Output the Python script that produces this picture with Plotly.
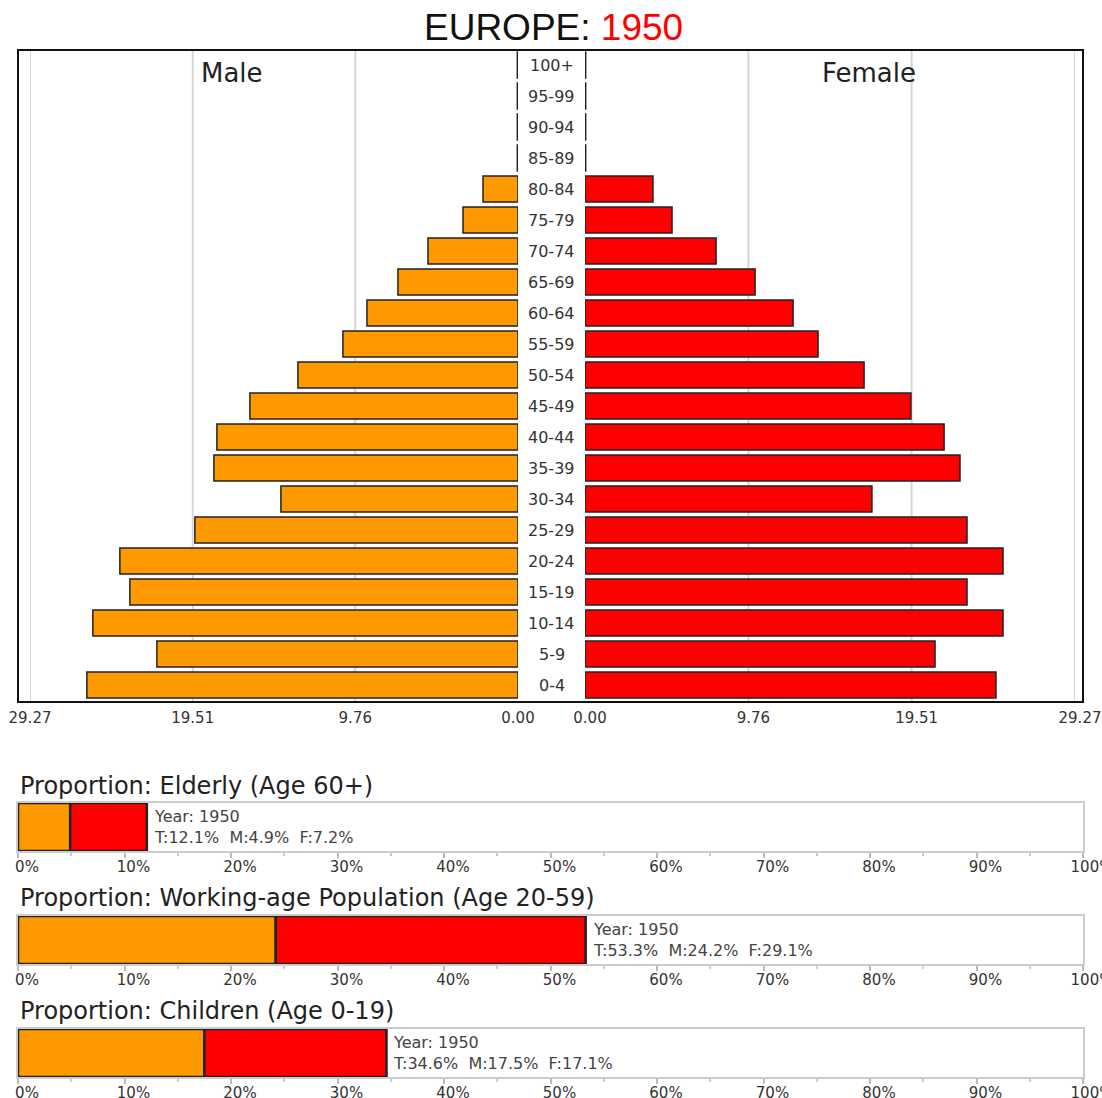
import plotly.graph_objects as go

# ---------------- data ----------------
region = "EUROPE"
year = 1950
age_groups = ["0-4", "5-9", "10-14", "15-19", "20-24", "25-29", "30-34", "35-39",
              "40-44", "45-49", "50-54", "55-59", "60-64", "65-69", "70-74", "75-79",
              "80-84", "85-89", "90-94", "95-99", "100+"]
male = [25.86, 21.66, 25.50, 23.28, 23.88, 19.38, 14.22, 18.24, 18.06, 16.08, 13.20,
        10.50, 9.06, 7.20, 5.40, 3.30, 2.10, 0.04, 0.04, 0.04, 0.04]
female = [24.55, 20.91, 24.97, 22.82, 24.97, 22.82, 17.14, 22.40, 21.45, 19.47, 16.67,
          13.92, 12.43, 10.16, 7.83, 5.20, 4.06, 0.04, 0.04, 0.04, 0.04]
axis_max = 29.27
axis_ticks = [0.00, 9.76, 19.51, 29.27]
axis_ticktext = ["0.00", "9.76", "19.51", "29.27"]

prop_titles = ["Proportion: Elderly (Age 60+)",
               "Proportion: Working-age Population (Age 20-59)",
               "Proportion: Children (Age 0-19)"]
prop_male = [4.9, 24.2, 17.5]
prop_female = [7.2, 29.1, 17.1]
prop_total = [12.1, 53.3, 34.6]
pct_ticks = [0, 10, 20, 30, 40, 50, 60, 70, 80, 90, 100]
pct_ticktext = ["0%", "10%", "20%", "30%", "40%", "50%", "60%", "70%", "80%", "90%", "100%"]
pct_minor = [5, 15, 25, 35, 45, 55, 65, 75, 85, 95]

# ---------------- style ----------------
ORANGE = "#FF9900"
RED = "#FF0000"
EDGE = "#222222"
SANS = "DejaVu Sans"
ARIAL = "Liberation Sans, Arial"

W, H = 1102, 1098


def fx(x):
    return x / W


def fy(y):
    return 1 - y / H


fig = go.Figure()

# pyramid bars
fig.add_trace(go.Bar(y=age_groups, x=male, orientation="h", xaxis="x", yaxis="y",
                     width=0.84, marker=dict(color=ORANGE, line=dict(color=EDGE, width=1.5)),
                     showlegend=False, hoverinfo="skip"))
fig.add_trace(go.Bar(y=age_groups, x=female, orientation="h", xaxis="x2", yaxis="y",
                     width=0.84, marker=dict(color=RED, line=dict(color=EDGE, width=1.5)),
                     showlegend=False, hoverinfo="skip"))

tickfont = dict(family=SANS, size=15, color="#333333")

layout = dict(
    width=W, height=H,
    margin=dict(l=0, r=0, t=0, b=0, autoexpand=False),
    paper_bgcolor="white", plot_bgcolor="rgba(0,0,0,0)",
    barmode="overlay", hovermode=False,
    xaxis=dict(domain=[fx(30), fx(518)], range=[axis_max, 0], anchor="y",
               tickvals=axis_ticks, ticktext=axis_ticktext, showgrid=False,
               zeroline=False, showline=False, ticks="outside", ticklen=3,
               tickcolor="rgba(0,0,0,0)", tickfont=tickfont, automargin=False,
               ticklabeloverflow="allow", fixedrange=True),
    xaxis2=dict(domain=[fx(585), fx(1075)], range=[0, axis_max], anchor="y",
                tickvals=axis_ticks, ticktext=axis_ticktext, showgrid=False,
                zeroline=False, showline=False, ticks="outside", ticklen=3,
                tickcolor="rgba(0,0,0,0)", tickfont=tickfont, ticklabelshift=5,
                automargin=False, ticklabeloverflow="allow", fixedrange=True),
    yaxis=dict(domain=[fy(700.5), fy(49.5)], type="category",
               categoryorder="array", categoryarray=age_groups,
               range=[-0.5, len(age_groups) - 0.5], showticklabels=False,
               showgrid=False, zeroline=False, showline=False, anchor="x",
               automargin=False, fixedrange=True),
)

shapes = []
annotations = []

# gridlines (non-zero ticks)
for v in axis_ticks:
    if v == 0:
        continue
    for xr in ("x", "x2"):
        shapes.append(dict(type="line", xref=xr, yref="paper", x0=v, x1=v,
                           y0=fy(701), y1=fy(51), line=dict(color="#d6d6d6", width=2),
                           layer="below"))

# pyramid frame
shapes.append(dict(type="rect", xref="paper", yref="paper", x0=fx(18), x1=fx(1083),
                   y0=fy(702), y1=fy(50), line=dict(color="#111111", width=2),
                   layer="above"))

# age labels
for a in age_groups:
    annotations.append(dict(x=fx(551.5), xref="paper", y=a, yref="y", text=a,
                            showarrow=False, xanchor="center", yanchor="middle",
                            font=dict(family=SANS, size=16, color="#333333")))

# title & sex labels
annotations.append(dict(x=fx(553), y=fy(27), xref="paper", yref="paper",
                        text=f"{region}: <span style='color:{RED}'>{year}</span>",
                        showarrow=False, xanchor="center", yanchor="middle",
                        font=dict(family=ARIAL, size=37, color="#111111")))
annotations.append(dict(x=fx(232), y=fy(73), xref="paper", yref="paper", text="Male",
                        showarrow=False, xanchor="center", yanchor="middle",
                        font=dict(family=SANS, size=26, color="#222222")))
annotations.append(dict(x=fx(869), y=fy(73), xref="paper", yref="paper", text="Female",
                        showarrow=False, xanchor="center", yanchor="middle",
                        font=dict(family=SANS, size=26, color="#222222")))

# proportion panels
box_tops = [803, 916, 1029]
box_h = 48
title_ys = [786, 898, 1011]
for i in range(3):
    n = i + 3
    xa, ya = f"x{n}", f"y{n}"
    fig.add_trace(go.Bar(x=[prop_male[i]], y=[0], orientation="h", xaxis=xa, yaxis=ya,
                         width=1, marker=dict(color=ORANGE, line=dict(color=EDGE, width=2.5)),
                         showlegend=False, hoverinfo="skip"))
    fig.add_trace(go.Bar(x=[prop_female[i]], base=[prop_male[i]], y=[0], orientation="h",
                         xaxis=xa, yaxis=ya, width=1,
                         marker=dict(color=RED, line=dict(color=EDGE, width=2.5)),
                         showlegend=False, hoverinfo="skip"))
    top = box_tops[i]
    layout[f"xaxis{n}"] = dict(domain=[fx(18), fx(1083)], range=[0, 100], anchor=ya,
                               tickvals=pct_ticks, ticktext=pct_ticktext, ticks="outside",
                               ticklen=5, tickwidth=1.5, tickcolor="#bbbbbb",
                               minor=dict(tickvals=pct_minor, ticks="outside", ticklen=3,
                                          tickcolor="#cccccc", tickwidth=1.5),
                               showline=True, mirror=True, linecolor="#cccccc", linewidth=2,
                               showgrid=False, zeroline=False, tickfont=tickfont,
                               ticklabelshift=9, ticklabelstandoff=-4, automargin=False,
                               ticklabeloverflow="allow", fixedrange=True,
                               layer="below traces")
    layout[f"yaxis{n}"] = dict(domain=[fy(top + box_h), fy(top)], range=[-0.5, 0.5],
                               anchor=xa, showticklabels=False, showgrid=False,
                               zeroline=False, showline=True, mirror=True,
                               linecolor="#cccccc", linewidth=2, automargin=False,
                               fixedrange=True, layer="below traces")
    annotations.append(dict(x=fx(18), y=fy(title_ys[i]), xref="paper", yref="paper",
                            text=prop_titles[i], showarrow=False, xanchor="left",
                            yanchor="middle",
                            font=dict(family=SANS, size=24, color="#222222")))
    sp = "\u00a0\u00a0"
    txt = (f"Year: {year}<br>T:{prop_total[i]:.1f}%{sp}M:{prop_male[i]:.1f}%"
           f"{sp}F:{prop_female[i]:.1f}%")
    annotations.append(dict(x=prop_total[i], y=0, xref=xa, yref=ya, text=txt,
                            showarrow=False, xanchor="left", yanchor="middle", xshift=5,
                            align="left",
                            font=dict(family=SANS, size=16, color="#444444")))

layout["shapes"] = shapes
layout["annotations"] = annotations
fig.update_layout(**layout)

fig.write_html("out.html", config={"displayModeBar": False},
               post_script="document.body.style.margin='0';"
                           "document.body.style.overflow='hidden';")
